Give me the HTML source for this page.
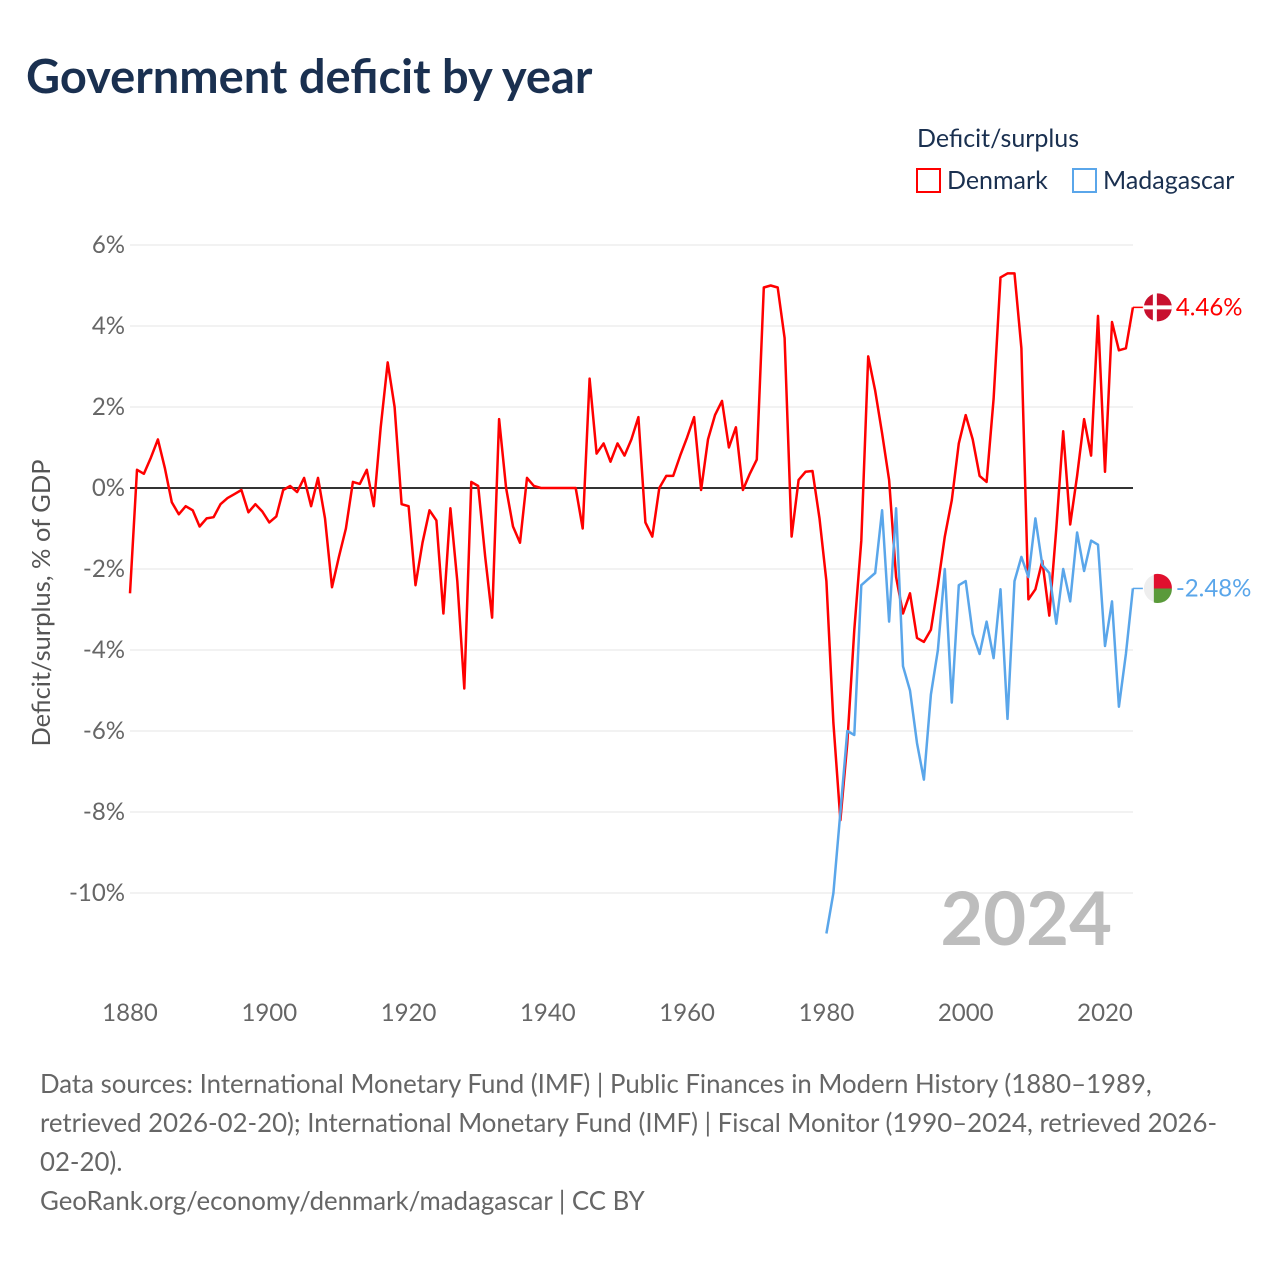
<!DOCTYPE html>
<html><head><meta charset="utf-8"><style>
body{margin:0;background:#fff;font-family:"Liberation Sans",sans-serif}
</style></head><body>
<svg id="chart" width="1280" height="1280" viewBox="0 0 1280 1280" xmlns="http://www.w3.org/2000/svg" font-family="Lato,'Liberation Sans',sans-serif">
<rect width="1280" height="1280" fill="#fff"/>
<text x="26" y="93" font-size="47" font-weight="bold" fill="#1a3050">Government deficit by year</text>
<text x="917" y="147" font-size="25" fill="#1a3050">Deficit/surplus</text>
<g><rect x="917" y="169" width="23" height="23" fill="none" stroke="#ff0000" stroke-width="2"/><text x="947" y="189" font-size="25" fill="#1a3050">Denmark</text></g>
<g><rect x="1073" y="169" width="23" height="23" fill="none" stroke="#5aa6ea" stroke-width="2"/><text x="1103" y="189" font-size="25" fill="#1a3050">Madagascar</text></g>
<g id="grid"></g><g id="xt"></g><g id="lines"></g>
<text x="1112" y="945" font-size="74" font-weight="bold" fill="#bdbdbd" text-anchor="end">2024</text>
<text transform="translate(50,603) rotate(-90)" font-size="25.5" fill="#555" text-anchor="middle">Deficit/surplus, % of GDP</text>
<g font-size="25.8" fill="#666">
<text x="40" y="1093">Data sources: International Monetary Fund (IMF) | Public Finances in Modern History (1880–1989,</text>
<text x="40" y="1132">retrieved 2026-02-20); International Monetary Fund (IMF) | Fiscal Monitor (1990–2024, retrieved 2026-</text>
<text x="40" y="1171">02-20).</text>
<text x="40" y="1210">GeoRank.org/economy/denmark/madagascar | CC BY</text>
</g>
</svg>
<script>
const yTicks=[6,4,2,0,-2,-4,-6,-8,-10];
const xTicks=[1880,1900,1920,1940,1960,1980,2000,2020];
const denStart=1880;
const denmark=[-2.6,0.45,0.35,0.75,1.2,0.5,-0.35,-0.65,-0.45,-0.55,-0.95,-0.75,-0.72,-0.4,-0.25,-0.15,-0.05,-0.6,-0.4,-0.58,-0.85,-0.7,-0.05,0.05,-0.1,0.25,-0.45,0.25,-0.75,-2.45,-1.7,-1.0,0.15,0.1,0.45,-0.45,1.5,3.1,2.0,-0.4,-0.45,-2.4,-1.35,-0.55,-0.8,-3.1,-0.5,-2.3,-4.95,0.15,0.05,-1.7,-3.2,1.7,0.0,-0.95,-1.35,0.25,0.05,0,0,0,0,0,0,-1.0,2.7,0.85,1.1,0.65,1.1,0.8,1.2,1.75,-0.85,-1.2,0.0,0.3,0.3,0.8,1.25,1.75,-0.05,1.2,1.8,2.15,1.0,1.5,-0.05,0.35,0.7,4.95,5.0,4.95,3.7,-1.2,0.2,0.4,0.42,-0.75,-2.3,-5.8,-8.2,-6.3,-3.5,-1.3,3.25,2.4,1.35,0.2,-2.2,-3.1,-2.6,-3.7,-3.8,-3.5,-2.4,-1.2,-0.3,1.1,1.8,1.2,0.3,0.15,2.2,5.2,5.3,5.3,3.45,-2.75,-2.5,-1.8,-3.15,-1.0,1.4,-0.9,0.3,1.7,0.8,4.25,0.4,4.1,3.4,3.45,4.46];
const madStart=1980;
const madagascar=[-11.0,-10.0,-8.0,-6.0,-6.1,-2.4,-2.25,-2.1,-0.55,-3.3,-0.5,-4.4,-5.0,-6.3,-7.2,-5.1,-4.0,-2.0,-5.3,-2.4,-2.3,-3.6,-4.1,-3.3,-4.2,-2.5,-5.7,-2.3,-1.7,-2.2,-0.75,-1.9,-2.1,-3.35,-2.0,-2.8,-1.1,-2.05,-1.3,-1.4,-3.9,-2.8,-5.4,-4.1,-2.48];
const NS="http://www.w3.org/2000/svg";
const X=yr=>130+(yr-1880)*(975/140);
const Y=v=>488-v*40.5;
function mk(tag,attrs,parent){const e=document.createElementNS(NS,tag);for(const k in attrs)e.setAttribute(k,attrs[k]);parent.appendChild(e);return e;}
const grid=document.getElementById('grid');
yTicks.forEach(t=>{
 const l=mk('line',{x1:130,x2:1133,y1:Y(t),y2:Y(t),stroke:t===0?'#333':'#e4e4e4','stroke-width':t===0?2:1},grid);
 
 
 const tx=mk('text',{x:125,y:Y(t)+8,'font-size':24,fill:'#666','text-anchor':'end'},grid);
 tx.textContent=t+'%';
 
 
});
const xt=document.getElementById('xt');
xTicks.forEach(t=>{
 const tx=mk('text',{x:X(t),y:1021,'font-size':24,fill:'#666','text-anchor':'middle'},xt);
 tx.textContent=t;
 
 
});
const lines=document.getElementById('lines');
function series(vals,start,color,name){
 const d=vals.map((v,i)=>(i?'L':'M')+X(start+i).toFixed(1)+','+Y(v).toFixed(1)).join('');
 const p=mk('path',{d:d,fill:'none',stroke:color,'stroke-width':2.5,'stroke-linejoin':'round'},lines);
 
 
 const last=vals[vals.length-1],lx=X(start+vals.length-1),ly=Y(last);
 const c=mk('line',{x1:lx,x2:lx+10,y1:ly,y2:ly,stroke:color,'stroke-width':1.5},lines);
 
 
 return [lx+25,ly,last];
}
const [dx,dy,dv]=series(denmark,denStart,'#ff0000','denmark');
const [mx,my,mv]=series(madagascar,madStart,'#5aa6ea','madagascar');
const fd=mk('g',{},lines);


mk('circle',{cx:dx,cy:dy,r:14,fill:'#c8102e'},fd);
mk('rect',{x:dx-5,y:dy-14,width:4,height:28,fill:'#fff'},fd);
mk('rect',{x:dx-14,y:dy-2,width:28,height:4,fill:'#fff'},fd);
const fm=mk('g',{},lines);


mk('circle',{cx:mx,cy:my,r:14,fill:'#eee'},fm);
mk('path',{d:`M${mx-4},${my} L${mx-4},${my-14} A14,14 0 0 1 ${mx+14},${my} Z`,fill:'#e0102e'},fm);
mk('path',{d:`M${mx-4},${my} L${mx+14},${my} A14,14 0 0 1 ${mx-4},${my+14} Z`,fill:'#5a9a3a'},fm);
const tl1=mk('text',{x:dx+18,y:dy+8,'font-size':24,fill:'#ff0000'},lines);
tl1.textContent=dv.toFixed(2)+'%';


const tl2=mk('text',{x:mx+18,y:my+8,'font-size':24,fill:'#5aa6ea'},lines);
tl2.textContent=mv.toFixed(2)+'%';


</script>
</body></html>
